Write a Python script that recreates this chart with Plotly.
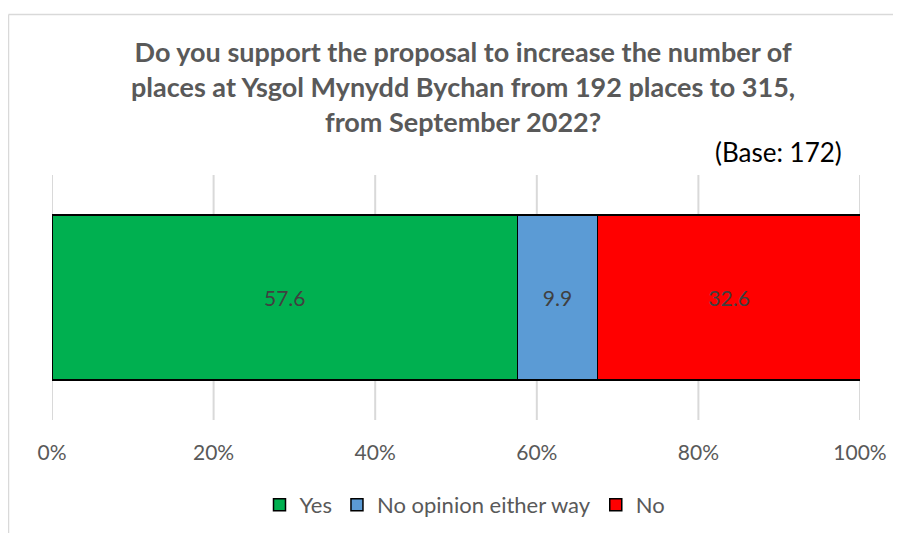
import plotly.graph_objects as go

categories = ["Q"]
series_names = ["Yes", "No opinion either way", "No"]
series_values = [57.6, 9.9, 32.6]
series_colors = ["#00b050", "#5b9bd5", "#ff0000"]
tick_vals = [0, 20, 40, 60, 80, 100]
tick_labels = ["0%", "20%", "40%", "60%", "80%", "100%"]

title_text = ("Do you support the proposal to increase the number of<br>"
              "places at Ysgol Mynydd Bychan from 192 places to 315,<br>"
              "from September 2022?")
base_text = "(Base: 172)"

FONT = "Lato"
OFF = 8  # page body margin
W, H = 901, 533
L, R, T, B = 52 - OFF, 901 - (860 - OFF), 175 - OFF, 533 - (420 - OFF)
pw, ph = W - L - R, H - T - B

def px(x):
    return (x - OFF - L) / pw

def py(y):
    return (H - B - (y - OFF)) / ph

fig = go.Figure()
for name, val, col in zip(series_names, series_values, series_colors):
    fig.add_trace(go.Bar(
        y=categories, x=[val], name=name, orientation="h",
        marker=dict(color=col, line=dict(color="#000000", width=1.5)),
        text=[f"{val:.1f}"], textposition="inside", insidetextanchor="middle",
        textfont=dict(family=FONT, size=21, color="#404040"),
        width=0.675,
    ))

shapes = [
    dict(type="line", xref="x", yref="paper", x0=v, x1=v, y0=0, y1=1,
         line=dict(color="#d9d9d9", width=2), layer="below")
    for v in tick_vals
]
shapes += [
    dict(type="line", xref="paper", yref="paper",
         x0=px(8.5), x1=px(1000), y0=py(14.5), y1=py(14.5),
         line=dict(color="#d9d9d9", width=1.5), layer="below"),
    dict(type="line", xref="paper", yref="paper",
         x0=px(8.5), x1=px(8.5), y0=py(14.5), y1=py(700),
         line=dict(color="#d9d9d9", width=1.5), layer="below"),
]

fig.update_layout(
    width=W, height=H,
    margin=dict(l=L, r=R, t=T, b=B),
    barmode="stack",
    plot_bgcolor="white", paper_bgcolor="white",
    font=dict(family=FONT, color="#595959"),
    xaxis=dict(range=[0, 100], tickvals=tick_vals, ticktext=tick_labels,
               showgrid=False, zeroline=False, showline=False, ticks="",
               tickfont=dict(family=FONT, size=21, color="#595959"),
               ticklabelstandoff=18),
    yaxis=dict(range=[-0.5, 0.5], showticklabels=False, showgrid=False,
               zeroline=False, showline=False),
    legend=dict(orientation="h", x=px(465), xanchor="center", y=py(505), yanchor="middle",
                font=dict(family=FONT, size=22, color="#595959"),
                traceorder="normal", itemwidth=30),
    showlegend=True,
    uniformtext=dict(mode="show", minsize=10),
    annotations=[
        dict(text="<b>" + title_text + "</b>", xref="paper", yref="paper",
             x=px(463), y=py(87), xanchor="center", yanchor="middle",
             showarrow=False, align="center",
             font=dict(family=FONT, size=27, color="#595959")),
        dict(text=base_text, xref="paper", yref="paper",
             x=px(844), y=py(152), xanchor="right", yanchor="middle",
             showarrow=False, font=dict(family=FONT, size=26, color="#000000")),
    ],
    shapes=shapes,
)

fig.write_html("out.html", config={"displayModeBar": False})
